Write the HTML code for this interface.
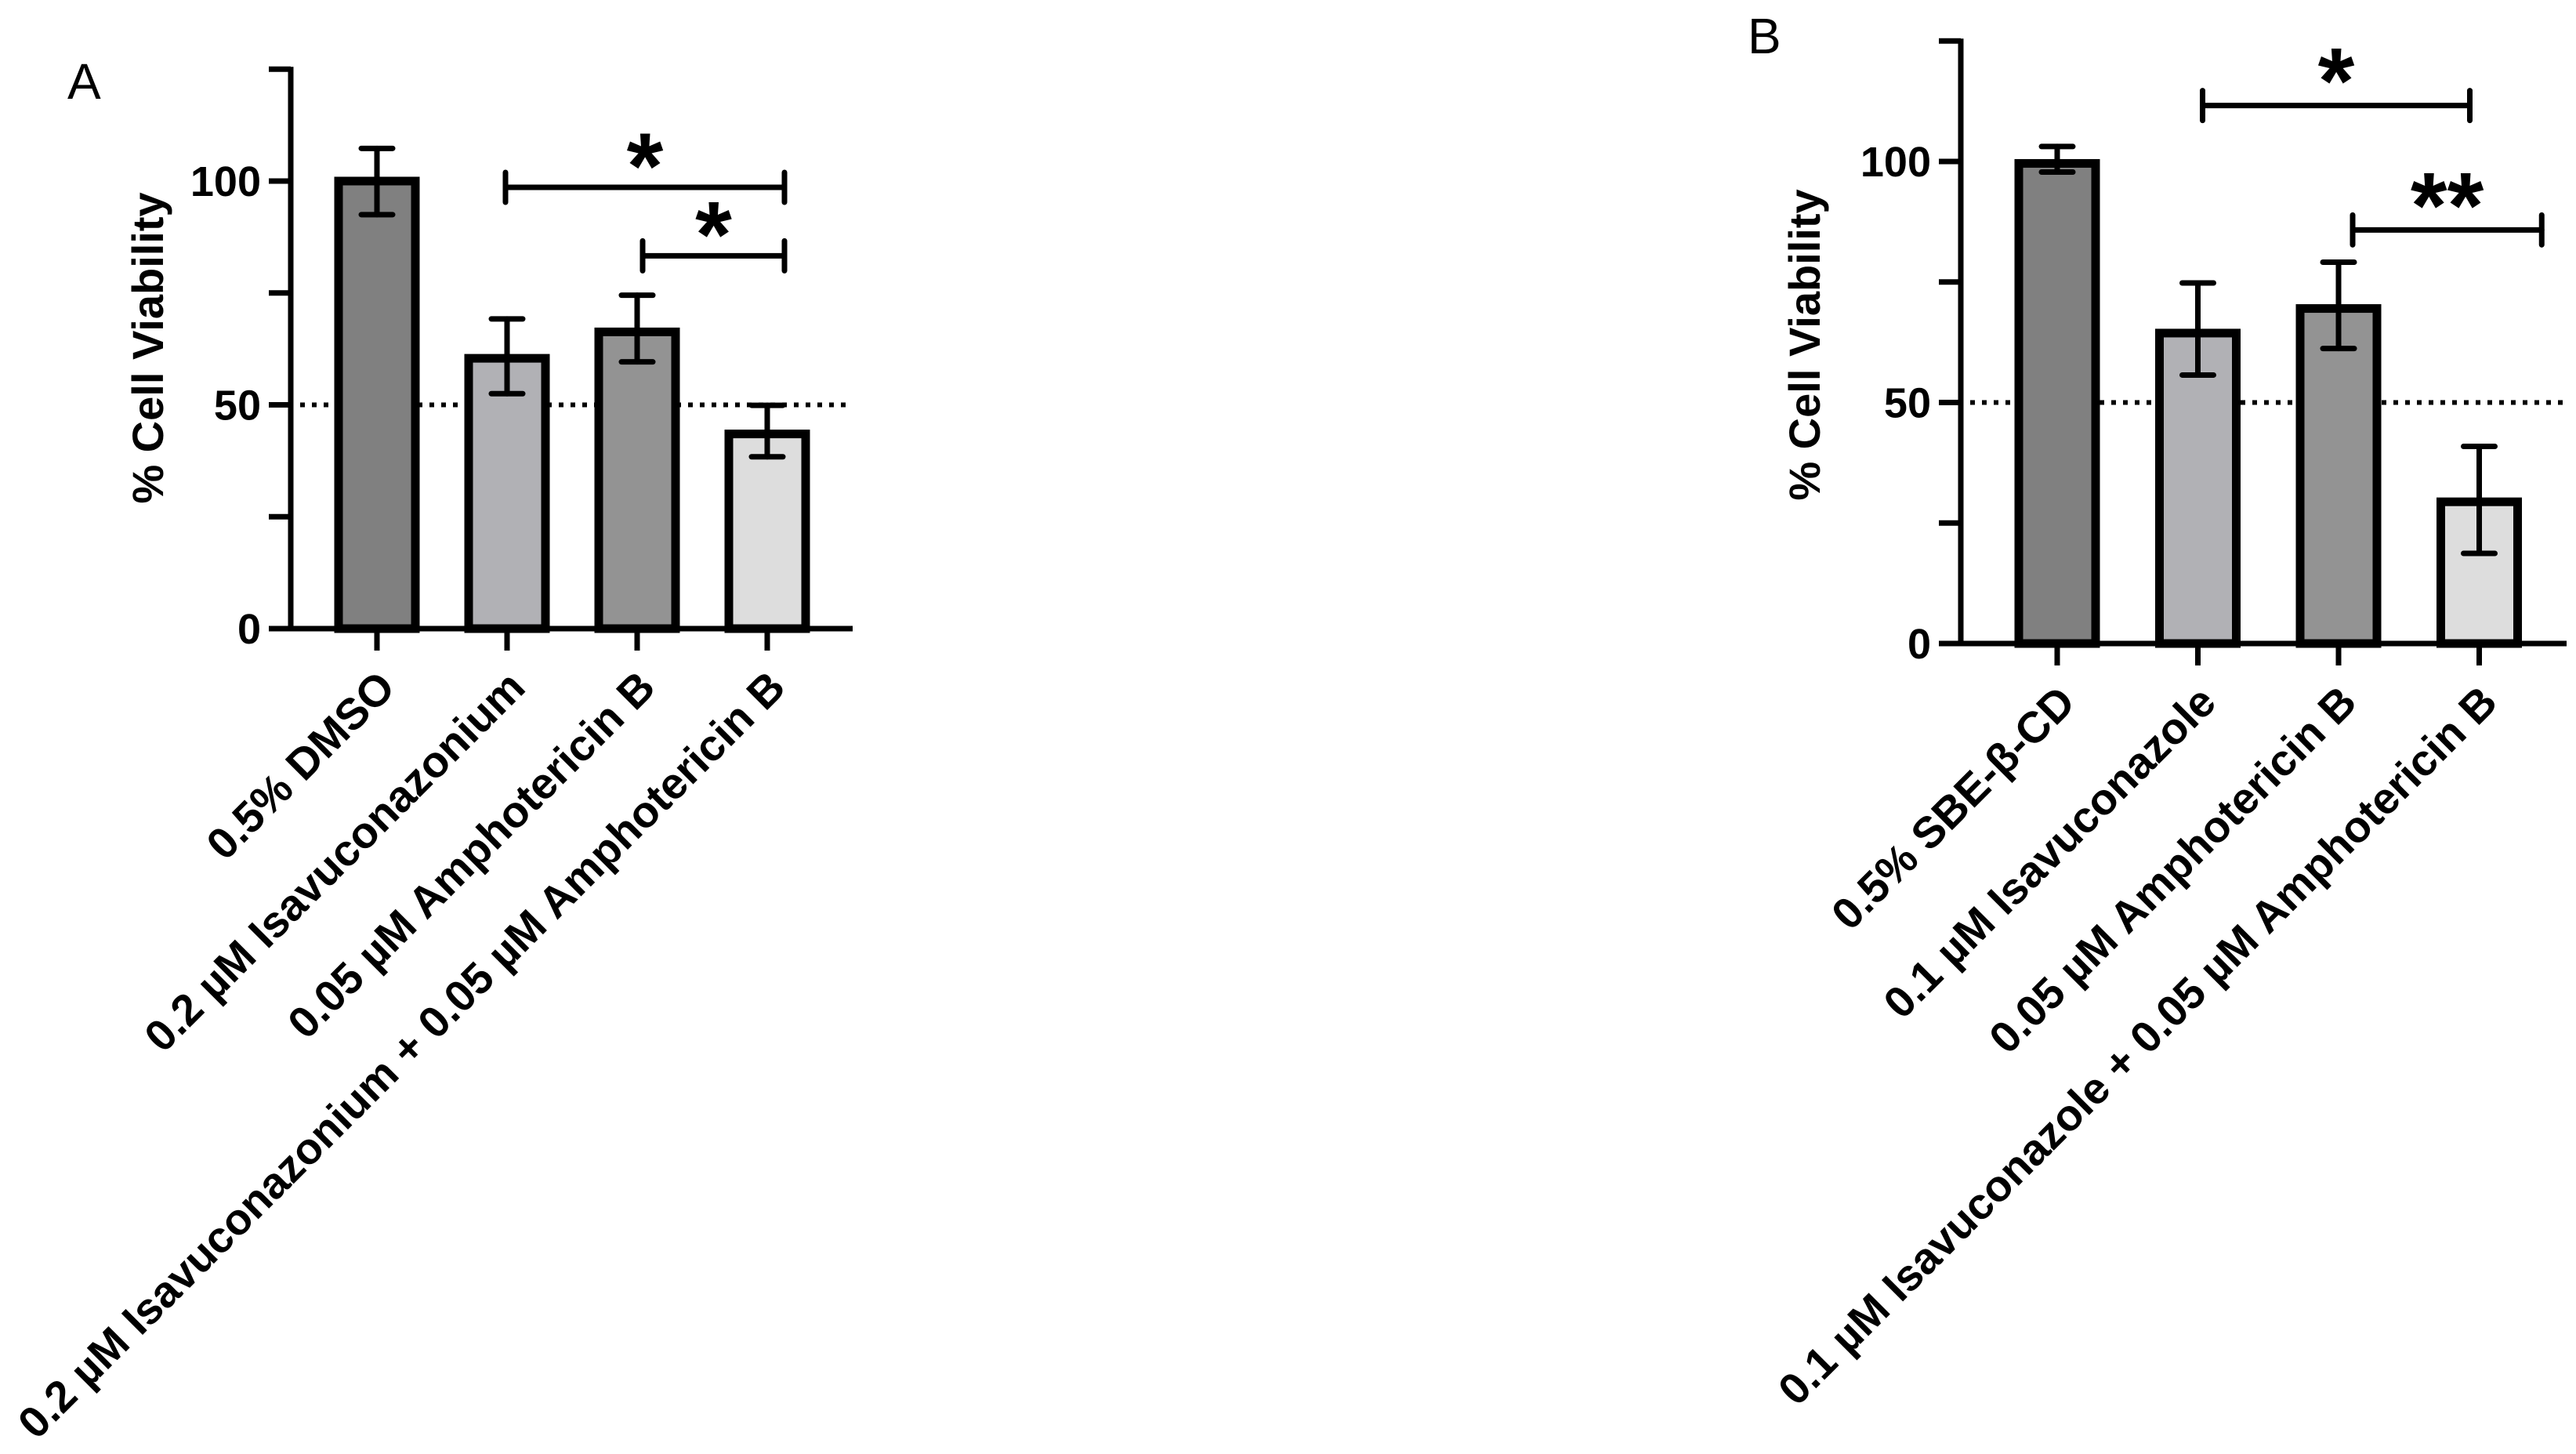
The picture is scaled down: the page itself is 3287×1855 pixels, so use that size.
<!DOCTYPE html>
<html><head><meta charset="utf-8"><style>
html,body{margin:0;padding:0;background:#fff;}
svg{display:block;font-family:"Liberation Sans",Arial,sans-serif;}
</style></head><body>
<svg id="chart" width="3287" height="1855" viewBox="0 0 3287 1855" xmlns="http://www.w3.org/2000/svg">
<text x="86" y="126" font-size="64">A</text>
<text x="2230" y="68" font-size="64">B</text>
<g id="panelA"></g>
<g id="panelB"></g>
</svg>
<script>
const catsA = ["0.5% DMSO","0.2 µM Isavuconazonium","0.05 µM Amphotericin B","0.2 µM Isavuconazonium + 0.05 µM Amphotericin B"];
const valsA = [100, 60.4, 66.3, 43.5];
const errHiA = [107.3, 69.2, 74.5, 49.9];
const errLoA = [92.5, 52.5, 59.6, 38.4];
const catsB = ["0.5% SBE-β-CD","0.1 µM Isavuconazole","0.05 µM Amphotericin B","0.1 µM Isavuconazole + 0.05 µM Amphotericin B"];
const valsB = [99.6, 64.4, 69.5, 29.4];
const errHiB = [103.1, 74.8, 79.1, 40.9];
const errLoB = [97.8, 55.7, 61.2, 18.7];
const yTicks = [0,25,50,75,100,125];
const yTickLabels = ["0","","50","","100",""];
const fills = ["#808080","#b1b1b5","#939393","#dddddd"];
const sigA = [{a:1,b:3,y:98.6,t:"*"},{a:2,b:3,y:83.3,t:"*"}];
const sigB = [{a:1,b:3,y:111.6,t:"*"},{a:2,b:3.5,y:85.8,t:"**"}];

const NS="http://www.w3.org/2000/svg";
function mk(parent,tag,attrs,txt){const e=document.createElementNS(NS,tag);for(const k in attrs)e.setAttribute(k,attrs[k]);if(txt!==undefined)e.textContent=txt;parent.appendChild(e);return e;}

function draw(g,cfg,cats,vals,hi,lo,sig,prefix){
  const y=v=>cfg.y0-(cfg.y0-cfg.y100)*v/100;
  const x=i=>cfg.x0+cfg.step*i;
  const bw=cfg.bw;
  let d=mk(g,"line",{x1:cfg.ax+12,x2:cfg.axEnd,y1:y(50),y2:y(50),stroke:"#000","stroke-width":6,"stroke-dasharray":"6 9"});
  
  
  cats.forEach((c,i)=>{
    const r=mk(g,"rect",{x:x(i)-bw/2,y:y(vals[i]),width:bw,height:y(0)-y(vals[i]),fill:fills[i],stroke:"#000","stroke-width":11});
    
    
    const eg=mk(g,"g",{stroke:"#000","stroke-width":7,"stroke-linecap":"round"});
    
    
    mk(eg,"line",{x1:x(i),x2:x(i),y1:y(hi[i]),y2:y(lo[i])});
    mk(eg,"line",{x1:x(i)-20,x2:x(i)+20,y1:y(hi[i]),y2:y(hi[i])});
    mk(eg,"line",{x1:x(i)-20,x2:x(i)+20,y1:y(lo[i]),y2:y(lo[i])});
    const tk=mk(g,"line",{x1:x(i),x2:x(i),y1:y(0),y2:y(0)+28,stroke:"#000","stroke-width":7});
    
    
    const tx=x(i)+26, ty=y(0)+78;
    const t=mk(g,"text",{x:tx,y:ty,"font-size":56,"font-weight":"bold","text-anchor":"end",transform:`rotate(-45 ${tx} ${ty})`},c);
    
    
  });
  let ya=mk(g,"line",{x1:cfg.ax,x2:cfg.ax,y1:y(125)-3,y2:y(0)+3,stroke:"#000","stroke-width":7});
  
  
  let xa=mk(g,"line",{x1:cfg.ax-28,x2:cfg.axEnd,y1:y(0),y2:y(0),stroke:"#000","stroke-width":7});
  
  
  yTicks.forEach((v,k)=>{
    const l=mk(g,"line",{x1:cfg.ax-28,x2:cfg.ax,y1:y(v),y2:y(v),stroke:"#000","stroke-width":7});
    
    
    if(yTickLabels[k]){
      const t=mk(g,"text",{x:cfg.ax-38,y:y(v)+19,"font-size":54,"font-weight":"bold","text-anchor":"end"},yTickLabels[k]);
      
      
    }
  });
  const tt=mk(g,"text",{x:cfg.titleX,y:cfg.titleY,"font-size":56,"font-weight":"bold","text-anchor":"middle",transform:`rotate(-90 ${cfg.titleX} ${cfg.titleY})`},"% Cell Viability");
  
  
  sig.forEach((s,k)=>{
    const xa2=x(s.a)+cfg.brOff[k][0], xb=x(s.b)+cfg.brOff[k][1], yy=y(s.y);
    const bg=mk(g,"g",{stroke:"#000","stroke-width":7,"stroke-linecap":"round"});
    
    
    mk(bg,"line",{x1:xa2,x2:xb,y1:yy,y2:yy});
    mk(bg,"line",{x1:xa2,x2:xa2,y1:yy-19,y2:yy+19});
    mk(bg,"line",{x1:xb,x2:xb,y1:yy-19,y2:yy+19});
    const st=mk(g,"text",{x:(xa2+xb)/2,y:yy+cfg.starDy,"font-size":120,"font-weight":"bold","text-anchor":"middle"},s.t);
    
    
  });
}
draw(document.getElementById('panelA'),{x0:481,step:166,bw:98,ax:371,axEnd:1088,y0:802,y100:231,titleX:208,titleY:444,brOff:[[-2,22],[7,22]],starDy:14},catsA,valsA,errHiA,errLoA,sigA,'panel-a');
draw(document.getElementById('panelB'),{x0:2625,step:179.5,bw:98,ax:2502,axEnd:3275,y0:821,y100:206,titleX:2322,titleY:440,brOff:[[6,-12],[18,-10]],starDy:10},catsB,valsB,errHiB,errLoB,sigB,'panel-b');
</script>
</body></html>
